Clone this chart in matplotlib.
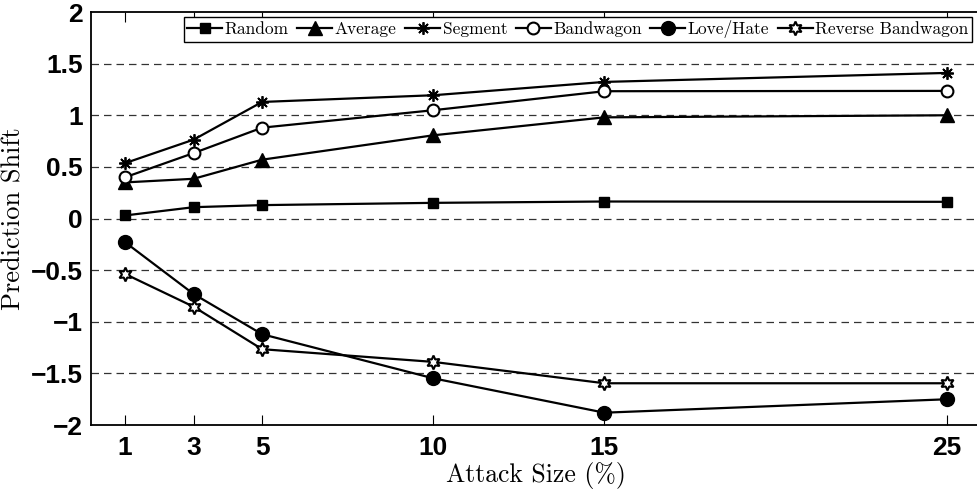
import numpy as np
import matplotlib.pyplot as plt
from matplotlib.ticker import FixedLocator

#%% datos
attack_size = [1, 3, 5, 10, 15, 25]
xtick_labels = ['1', '3', '5', '10', '15', '25']

random_shift = [0.03, 0.11, 0.13, 0.152, 0.165, 0.162]
average_shift = [0.35, 0.385, 0.57, 0.806, 0.98, 1.0]
segment_shift = [0.537, 0.764, 1.129, 1.194, 1.323, 1.41]
bandwagon_shift = [0.40, 0.634, 0.88, 1.049, 1.233, 1.236]
lovehate_shift = [-0.23, -0.731, -1.12, -1.547, -1.88, -1.75]
revband_shift = [-0.537, -0.854, -1.265, -1.388, -1.595, -1.595]

yticks = [-2, -1.5, -1, -0.5, 0, 0.5, 1, 1.5, 2]
ytick_labels = ['\u22122', '\u22121.5', '\u22121', '\u22120.5', '0', '0.5', '1', '1.5', '2']

#%% figura
fig = plt.figure(figsize=(9.78, 4.92), dpi=100)
ax = fig.add_axes([0.093, 0.136, 0.91, 0.8396])

lw = 1.6
ax.plot(attack_size, random_shift, '-', color='k', lw=lw, marker='s', ms=7.5,
        mfc='k', mec='k', label='Random')
ax.plot(attack_size, average_shift, '-', color='k', lw=lw, marker='^', ms=10,
        mfc='k', mec='k', label='Average')
ax.plot(attack_size, segment_shift, '-', color='k', lw=lw, marker=(8, 2, 0), ms=9,
        mfc='k', mec='k', mew=1.3, label='Segment')
ax.plot(attack_size, bandwagon_shift, '-', color='k', lw=lw, marker='o', ms=8.5,
        mfc='white', mec='k', mew=1.5, label='Bandwagon')
ax.plot(attack_size, lovehate_shift, '-', color='k', lw=lw, marker='o', ms=10,
        mfc='k', mec='k', label='Love/Hate')
ax.plot(attack_size, revband_shift, '-', color='k', lw=lw, marker=(6, 1, 0), ms=10,
        mfc='white', mec='k', mew=1.5, label='Reverse Bandwagon')

ax.set_xlim(0, 26)
ax.set_ylim(-2, 2)

# rejilla horizontal discontinua
for yv in yticks[1:-1]:
    ax.axhline(yv, color='#333333', lw=0.9, dashes=(6, 4), zorder=0)

ax.xaxis.set_major_locator(FixedLocator(attack_size))
ax.set_xticklabels(xtick_labels, fontfamily='Liberation Sans', fontweight='bold', fontsize=19)
ax.yaxis.set_major_locator(FixedLocator(yticks))
ax.set_yticklabels(ytick_labels, fontfamily='Liberation Sans', fontweight='bold', fontsize=19)

ax.tick_params(axis='x', direction='in', length=7, width=0.8, top=True, pad=8)
ax.tick_params(axis='y', length=0, pad=6)

for sp in ax.spines.values():
    sp.set_linewidth(1.3)
ax.spines['right'].set_visible(False)

ax.set_xlabel('Attack Size (%)', fontfamily='cmr10', fontsize=18.5, labelpad=1)
ax.set_ylabel('Prediction Shift', fontfamily='cmr10', fontsize=19, labelpad=4)

leg = ax.legend(loc='upper right', ncol=6, prop={'family': 'cmr10', 'size': 12.5},
                frameon=True, fancybox=False, edgecolor='k', framealpha=1,
                handlelength=2.0, handletextpad=0.15, columnspacing=0.5,
                borderpad=0.2, borderaxespad=0, bbox_to_anchor=(0.99, 0.988))
leg.get_frame().set_linewidth(1.0)

fig.savefig('out.png', dpi=100)
